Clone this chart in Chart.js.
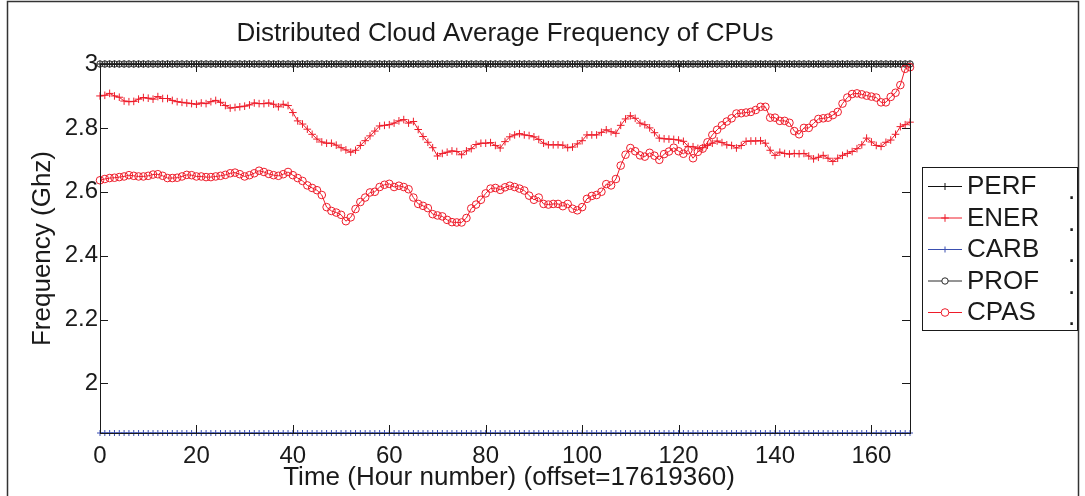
<!DOCTYPE html>
<html>
<head>
<meta charset="utf-8">
<script src="https://cdn.jsdelivr.net/npm/chart.js@4/dist/chart.umd.min.js"></script>
<style>
html,body{margin:0;padding:0;background:#fff;}
#wrap{position:relative;width:1085px;height:496px;}
</style>
</head>
<body>
<div id="wrap"><canvas id="c" width="1085" height="496"></canvas></div>
<script>
// ---- data ----
const chartTitle = "Distributed Cloud Average Frequency of CPUs";
const xTitle = "Time (Hour number) (offset=17619360)";
const yTitle = "Frequency (Ghz)";
const seriesNames = ["PERF", "ENER", "CARB", "PROF", "CPAS"];
const xTicks = [0, 20, 40, 60, 80, 100, 120, 140, 160];
const yTicks = [2, 2.2, 2.4, 2.6, 2.8, 3];
const xMin = 0, xMax = 168, yMin = 1.845, yMax = 3;

const ener = [
2.900,2.902,2.908,2.900,2.896,2.884,2.882,2.883,2.890,2.895,
2.893,2.890,2.898,2.892,2.892,2.886,2.882,2.880,2.878,2.876,
2.874,2.878,2.876,2.882,2.886,2.880,2.870,2.862,2.864,2.866,
2.868,2.872,2.878,2.876,2.876,2.878,2.874,2.866,2.874,2.870,
2.848,2.822,2.812,2.796,2.780,2.765,2.756,2.752,2.752,2.746,
2.738,2.731,2.724,2.730,2.745,2.760,2.775,2.790,2.806,2.808,
2.810,2.815,2.822,2.826,2.815,2.820,2.795,2.773,2.755,2.738,
2.712,2.720,2.724,2.728,2.726,2.716,2.728,2.735,2.748,2.752,
2.752,2.754,2.745,2.737,2.757,2.772,2.778,2.782,2.778,2.776,
2.772,2.764,2.752,2.747,2.747,2.747,2.746,2.738,2.740,2.750,
2.760,2.778,2.778,2.778,2.786,2.794,2.788,2.783,2.808,2.828,
2.838,2.830,2.815,2.810,2.800,2.785,2.768,2.766,2.765,2.764,
2.762,2.758,2.742,2.741,2.736,2.738,2.746,2.752,2.759,2.754,
2.747,2.745,2.737,2.745,2.758,2.759,2.759,2.760,2.752,2.730,
2.714,2.724,2.720,2.718,2.720,2.719,2.720,2.712,2.703,2.708,
2.714,2.705,2.695,2.705,2.714,2.720,2.726,2.735,2.747,2.768,
2.756,2.745,2.742,2.755,2.762,2.780,2.804,2.810,2.818];

const cpas = [
2.636,2.640,2.643,2.644,2.646,2.648,2.652,2.650,2.648,2.648,
2.650,2.654,2.655,2.650,2.643,2.643,2.644,2.648,2.653,2.652,
2.648,2.648,2.646,2.646,2.648,2.650,2.653,2.658,2.660,2.655,
2.648,2.652,2.658,2.666,2.662,2.656,2.652,2.650,2.655,2.662,
2.652,2.643,2.634,2.620,2.612,2.605,2.590,2.552,2.540,2.535,
2.528,2.508,2.520,2.546,2.568,2.582,2.598,2.600,2.615,2.622,
2.625,2.615,2.619,2.615,2.608,2.582,2.562,2.556,2.549,2.530,
2.526,2.523,2.512,2.505,2.504,2.504,2.518,2.548,2.560,2.575,
2.595,2.610,2.612,2.606,2.614,2.619,2.615,2.610,2.604,2.588,
2.575,2.582,2.562,2.560,2.562,2.562,2.555,2.562,2.547,2.542,
2.552,2.578,2.587,2.590,2.600,2.624,2.620,2.640,2.682,2.716,
2.737,2.727,2.714,2.710,2.722,2.713,2.700,2.718,2.726,2.738,
2.727,2.719,2.730,2.705,2.725,2.735,2.755,2.778,2.794,2.808,
2.820,2.830,2.845,2.846,2.848,2.850,2.856,2.866,2.866,2.832,
2.832,2.822,2.822,2.816,2.790,2.780,2.800,2.800,2.814,2.828,
2.830,2.832,2.840,2.850,2.876,2.895,2.906,2.908,2.905,2.901,
2.898,2.895,2.880,2.880,2.897,2.910,2.934,2.985,2.990];

const perfLevel = 3.0;   // PERF constant (hidden under PROF)
const profLevel = 3.0;   // PROF constant
const carbLevel = 1.845; // CARB constant (on bottom axis)

// ---- build ----
const hours = ener.map((_, i) => i);
const perf = hours.map(() => perfLevel);
const prof = hours.map(() => profLevel);
const carb = hours.map(() => carbLevel);
const pts = arr => arr.map((v, i) => ({x: hours[i], y: v}));

const RED = '#ee1c2a', BLACK = '#111111', BLUE = '#3a4fb0', GRAY = '#2a2a2a';
const FONT = "'Liberation Sans', Arial, Helvetica, sans-serif";

const styles = [
  {color: BLACK, point: 'cross', r: 3.5, order: 5},
  {color: RED,   point: 'cross', r: 3.8, order: 4},
  {color: BLUE,  point: 'cross', r: 3,   order: 3},
  {color: GRAY,  point: 'circle', r: 3.2, order: 2},
  {color: RED,   point: 'circle', r: 3.8, order: 1}
];
const values = [perf, ener, carb, prof, cpas];

const datasets = seriesNames.map((name, k) => ({
  label: name,
  data: pts(values[k]),
  borderColor: styles[k].color,
  borderWidth: 1,
  pointStyle: styles[k].point,
  pointRadius: styles[k].r,
  pointBorderColor: styles[k].color,
  pointBackgroundColor: 'rgba(0,0,0,0)',
  pointBorderWidth: 1,
  tension: 0,
  clip: false,
  order: styles[k].order
}));

const deco = {
  id: 'deco',
  afterDatasetsDraw(chart) {
    const ctx = chart.ctx;
    const a = chart.chartArea;
    const xs = chart.scales.x, ys = chart.scales.y;
    ctx.save();
    ctx.strokeStyle = '#1a1a1a';
    ctx.lineWidth = 1;
    ctx.strokeRect(Math.round(a.left) + 0.5, Math.round(a.top) + 0.5,
                   Math.round(a.right - a.left), Math.round(a.bottom - a.top));
    ctx.beginPath();
    const tl = 8;
    xTicks.forEach(v => {
      const px = Math.round(xs.getPixelForValue(v)) + 0.5;
      ctx.moveTo(px, a.bottom); ctx.lineTo(px, a.bottom - tl);
      ctx.moveTo(px, a.top); ctx.lineTo(px, a.top + tl);
    });
    yTicks.forEach(v => {
      const py = Math.round(ys.getPixelForValue(v)) + 0.5;
      ctx.moveTo(a.left, py); ctx.lineTo(a.left + tl, py);
      ctx.moveTo(a.right, py); ctx.lineTo(a.right - tl, py);
    });
    ctx.stroke();
    ctx.restore();
  },
  afterDraw(chart) {
    const ctx = chart.ctx;
    const a = chart.chartArea;
    ctx.save();
    ctx.strokeStyle = '#333';
    ctx.lineWidth = 1.5;
    ctx.strokeRect(7.5, 1.5, 1071, 510);
    ctx.fillStyle = '#1a1a1a';
    ctx.textAlign = 'center';
    ctx.textBaseline = 'middle';
    ctx.font = '26px ' + FONT;
    ctx.fillText(chartTitle, (a.left + a.right) / 2, 34);
    ctx.fillText(xTitle, (a.left + a.right) / 2 + 4, 478);
    ctx.save();
    ctx.translate(43, (a.top + a.bottom) / 2);
    ctx.rotate(-Math.PI / 2);
    ctx.fillText(yTitle, 0, 0);
    ctx.restore();
    // legend
    const lx = 922, ly = 167, lw = 155, lh = 163;
    ctx.fillStyle = '#fff';
    ctx.fillRect(lx, ly, lw, lh);
    ctx.strokeStyle = '#1a1a1a';
    ctx.lineWidth = 1;
    ctx.strokeRect(lx + 0.5, ly + 0.5, lw, lh);
    const rowY = [186, 217.5, 249, 280.5, 312];
    ctx.font = '26px ' + FONT;
    ctx.textAlign = 'left';
    ctx.textBaseline = 'middle';
    chart.data.datasets.forEach((ds, k) => {
      const y = rowY[k];
      ctx.strokeStyle = ds.borderColor;
      ctx.lineWidth = 1;
      ctx.beginPath();
      ctx.moveTo(928, y + 0.5); ctx.lineTo(962, y + 0.5);
      ctx.stroke();
      ctx.fillStyle = 'rgba(255,255,255,1)';
      Chart.helpers.drawPoint(ctx, {
        pointStyle: ds.pointStyle, radius: ds.pointRadius,
        borderWidth: 1, rotation: 0
      }, 945, y + 0.5);
      ctx.fillStyle = '#1a1a1a';
      ctx.fillText(ds.label, 967, y + 1);
      ctx.fillText('.', 1068, y + 6);
    });
    ctx.restore();
  }
};

new Chart(document.getElementById('c'), {
  type: 'line',
  data: {datasets},
  options: {
    responsive: false,
    animation: false,
    events: [],
    layout: {padding: {left: 0, right: 175, top: 64, bottom: 0}},
    plugins: {legend: {display: false}, title: {display: false}, tooltip: {enabled: false}},
    scales: {
      x: {
        type: 'linear', min: xMin, max: xMax,
        grid: {display: false, drawTicks: false},
        border: {display: false},
        afterFit: s => { s.height = 63; },
        afterBuildTicks: s => { s.ticks = xTicks.map(v => ({value: v})); },
        ticks: {
          padding: 9, color: '#1a1a1a', maxRotation: 0, autoSkip: false,
          font: {family: FONT, size: 24},
          callback: v => String(v)
        }
      },
      y: {
        type: 'linear', min: yMin, max: yMax,
        grid: {display: false, drawTicks: false},
        border: {display: false},
        afterFit: s => { s.width = 100; },
        afterBuildTicks: s => { s.ticks = yTicks.map(v => ({value: v})); },
        ticks: {
          padding: 2, color: '#1a1a1a', autoSkip: false,
          font: {family: FONT, size: 24},
          callback: v => String(+(+v).toFixed(1))
        }
      }
    }
  },
  plugins: [deco]
});
</script>
</body>
</html>
